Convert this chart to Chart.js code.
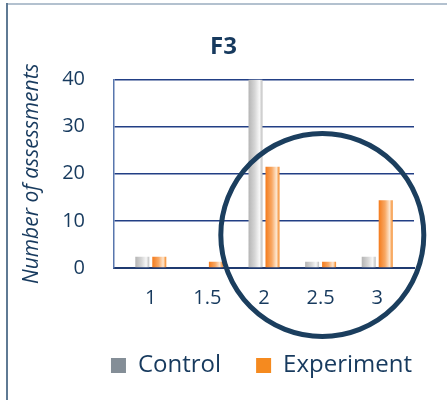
<!DOCTYPE html>
<html>
<head>
<meta charset="utf-8">
<script src="https://cdn.jsdelivr.net/npm/chart.js@4"></script>
<style>
  html, body { margin: 0; padding: 0; background: #ffffff; }
  #wrap { position: relative; width: 447px; height: 400px; }
</style>
</head>
<body>
<div id="wrap"><canvas id="chart" width="447" height="400"></canvas></div>
<script>
// Score categories on the x axis
const categories = [1, 1.5, 2, 2.5, 3];
// Number of assessments per score
const controlValues = [2.4, 0, 40, 1.3, 2.4];
const experimentValues = [2.4, 1.3, 21.5, 1.3, 14.4];
// Y axis tick range
const yTicks = [0, 10, 20, 30, 40];

const NAVY = '#173a5e';
const FONT = "'Open Sans', 'Noto Sans', sans-serif";

// Cylinder-like shading for each bar
const shading = {
  Control: ['#b5b5b5', '#d6d6d6', '#f7f7f7', '#bdbdbd'],
  Experiment: ['#f47b1c', '#f8a864', '#fde6cf', '#f5851f']
};

const barShade = {
  id: 'barShade',
  beforeDatasetsDraw(chart) {
    const ctx = chart.ctx;
    chart.data.datasets.forEach((ds, i) => {
      const stops = shading[ds.label];
      chart.getDatasetMeta(i).data.forEach(bar => {
        const x0 = bar.x - bar.width / 2, x1 = bar.x + bar.width / 2;
        const g = ctx.createLinearGradient(x0, 0, x1, 0);
        g.addColorStop(0, stops[0]);
        g.addColorStop(0.45, stops[1]);
        g.addColorStop(0.78, stops[2]);
        g.addColorStop(1, stops[3]);
        bar.options = Object.assign({}, bar.options, { backgroundColor: g });
      });
    });
  }
};

// Outer frame of the figure
const frame = {
  id: 'frame',
  beforeDraw(chart) {
    const ctx = chart.ctx;
    ctx.save();
    ctx.fillStyle = '#b3c1cf';
    ctx.fillRect(6, 3, chart.width - 6, 2);
    ctx.fillStyle = '#5f7a94';
    ctx.fillRect(6, 3, 2, chart.height - 3);
    ctx.restore();
  }
};

// Highlight ring around the upper score range
const ring = {
  id: 'ring',
  afterDraw(chart) {
    const ctx = chart.ctx;
    const cx = chart.scales.x.getPixelForValue(2.5) + 1.7;
    const cy = chart.scales.y.getPixelForValue(7);
    ctx.save();
    ctx.beginPath();
    ctx.arc(cx, cy, 101.5, 0, Math.PI * 2);
    ctx.strokeStyle = '#1b3e5e';
    ctx.lineWidth = 5;
    ctx.stroke();
    ctx.restore();
  }
};

new Chart(document.getElementById('chart'), {
  type: 'bar',
  data: {
    datasets: [
      {
        label: 'Control',
        data: categories.map((c, i) => ({ x: c, y: controlValues[i] })),
        backgroundColor: '#848e97',
        borderWidth: 0
      },
      {
        label: 'Experiment',
        data: categories.map((c, i) => ({ x: c, y: experimentValues[i] })),
        backgroundColor: '#f58a1f',
        borderWidth: 0
      }
    ]
  },
  options: {
    responsive: false,
    animation: false,
    devicePixelRatio: 1,
    categoryPercentage: 0.6,
    barPercentage: 0.824,
    layout: { padding: { left: 0, right: 0, top: 0, bottom: 12.5 } },
    plugins: {
      title: {
        display: true,
        text: 'F3',
        color: NAVY,
        font: { family: FONT, size: 24, weight: 'bold' },
        padding: { top: 32.6, bottom: 18.1 }
      },
      legend: {
        position: 'bottom',
        align: 'end',
        labels: {
          color: NAVY,
          font: { family: FONT, size: 24 },
          boxWidth: 15,
          boxHeight: 15,
          padding: 35
        }
      },
      tooltip: { enabled: false }
    },
    scales: {
      x: {
        type: 'linear',
        offset: false,
        min: 0.675,
        max: 3.325,
        afterBuildTicks(scale) { scale.ticks = categories.map(v => ({ value: v })); },
        afterFit(scale) { scale.height = 50.5; },
        grid: { display: false, drawTicks: false },
        border: { display: true, color: '#1f3a70', width: 2 },
        ticks: {
          color: NAVY,
          font: { family: FONT, size: 20 },
          padding: 18.7,
          autoSkip: false,
          maxRotation: 0,
          callback: v => String(v)
        }
      },
      y: {
        min: 0,
        max: 40,
        afterBuildTicks(scale) { scale.ticks = yTicks.map(v => ({ value: v })); },
        afterFit(scale) { scale.width = 114; },
        grid: { color: '#223f85', lineWidth: 1.6, drawTicks: false },
        border: { display: true, color: '#5876ad', width: 1.5 },
        ticks: {
          color: NAVY,
          font: { family: FONT, size: 20 },
          padding: 29
        },
        title: {
          display: true,
          text: 'Number of assessments',
          color: NAVY,
          font: { family: FONT, size: 21, style: 'italic' },
          padding: { top: 19.5, bottom: 0 }
        }
      },
      y2: {
        position: 'right',
        afterFit(scale) { scale.width = 33; },
        grid: { display: false, drawTicks: false },
        border: { display: false },
        ticks: { display: false }
      }
    }
  },
  plugins: [frame, barShade, ring]
});
</script>
</body>
</html>
